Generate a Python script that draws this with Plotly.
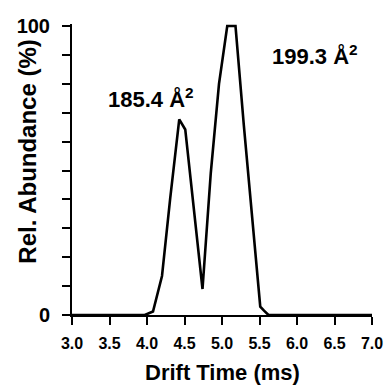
import plotly.graph_objects as go

drift_time = [3.0, 3.97, 4.08, 4.20, 4.31, 4.43, 4.51, 4.74, 4.85, 4.96, 5.07, 5.18, 5.29, 5.40, 5.51, 5.56, 5.62, 7.0]
abundance = [0, 0, 1.2, 13.5, 40.5, 67.7, 64.2, 9.0, 49, 80, 100, 100, 66, 34, 2.9, 1.5, 0, 0]

x_ticks = [3.0, 3.5, 4.0, 4.5, 5.0, 5.5, 6.0, 6.5, 7.0]
y_major_ticks = [0, 100]
y_labels = ["0", "100"]
y_minor_ticks = [10, 20, 30, 40, 50, 60, 70, 80, 90]

labels = ["185.4 Å<sup>2</sup>", "199.3 Å<sup>2</sup>"]
label_x = [4.05, 6.24]
label_y = [75, 90]

x_title = "Drift Time (ms)"
y_title = "Rel. Abundance (%)"

font = "Liberation Sans, Arial, sans-serif"

fig = go.Figure()
fig.add_trace(go.Scatter(x=drift_time, y=abundance, mode="lines",
                         line=dict(color="black", width=2.6), showlegend=False))

for t, xx, yy in zip(labels, label_x, label_y):
    fig.add_annotation(x=xx, y=yy, text="<b>" + t + "</b>", showarrow=False,
                       xanchor="center", yanchor="middle",
                       font=dict(family=font, size=22, color="black"))

fig.add_annotation(xref="paper", yref="paper", x=0.5, y=-0.196, text="<b>" + x_title + "</b>",
                   showarrow=False, xanchor="center", yanchor="middle",
                   font=dict(family=font, size=22, color="black"))
fig.add_annotation(xref="paper", yref="paper", x=-0.147, y=0.561, text="<b>" + y_title + "</b>",
                   showarrow=False, xanchor="center", yanchor="middle", textangle=-90,
                   font=dict(family=font, size=24, color="black"))

fig.update_layout(
    template="none",
    width=387, height=385,
    margin=dict(l=72, r=15, t=24, b=70, autoexpand=False),
    plot_bgcolor="white", paper_bgcolor="white",
    xaxis=dict(range=[3.0, 7.0], tickmode="array", tickvals=x_ticks,
               ticktext=[f"<b>{v:.1f}</b>" for v in x_ticks],
               ticks="outside", ticklen=8, tickwidth=2, tickcolor="black",
               showline=True, linecolor="black", linewidth=2, showgrid=False, zeroline=False,
               automargin=False, ticklabelstandoff=5,
               tickfont=dict(family=font, size=16, color="black")),
    yaxis=dict(range=[0, 100.7], tickmode="array", tickvals=y_major_ticks,
               ticktext=[f"<b>{t}</b>" for t in y_labels],
               ticks="outside", ticklen=8, tickwidth=2, tickcolor="black",
               minor=dict(tickmode="array", tickvals=y_minor_ticks, ticks="outside",
                          ticklen=8, tickwidth=2, tickcolor="black", showgrid=False),
               showline=True, linecolor="black", linewidth=2, showgrid=False, zeroline=False,
               automargin=False, ticklabelstandoff=8,
               tickfont=dict(family=font, size=20, color="black")),
)

fig.write_html("out.html")
